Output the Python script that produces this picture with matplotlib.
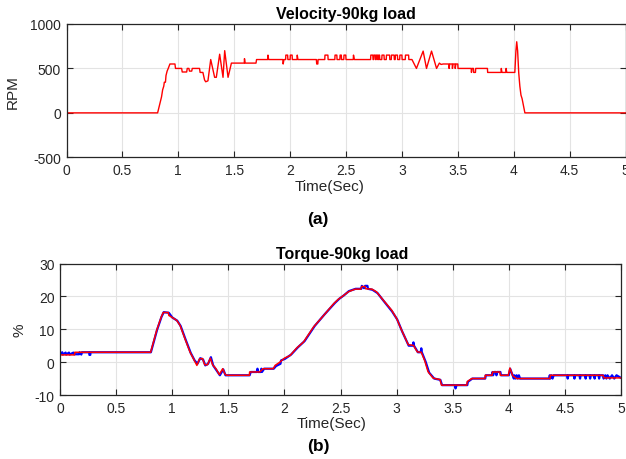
import matplotlib
matplotlib.use("Agg")
import matplotlib.pyplot as plt

plt.rcParams['font.family'] = ['Liberation Sans', 'DejaVu Sans']
plt.rcParams['axes.unicode_minus'] = False

# ---------------- data ----------------
vel_t = [0, 0.815, 0.835, 0.85, 0.86, 0.87, 0.875, 0.885, 0.89, 0.90, 0.91, 0.925, 0.97, 0.975,
         1.03, 1.035, 1.075, 1.08, 1.095, 1.10, 1.12, 1.125, 1.19, 1.195, 1.22, 1.235, 1.245, 1.265,
         1.29, 1.325, 1.34, 1.37, 1.40, 1.415, 1.445, 1.475, 1.59, 1.592, 1.598, 1.695, 1.70,
         1.80, 1.802, 1.808, 1.935, 1.938, 1.945, 1.96, 1.962, 1.978, 1.98,
         2.0, 2.002, 2.018, 2.02, 2.062, 2.064, 2.07, 2.235, 2.238, 2.248, 2.25,
         2.31, 2.312, 2.338, 2.34, 2.40, 2.402, 2.418, 2.42, 2.445, 2.447, 2.458, 2.46,
         2.48, 2.482, 2.498, 2.50, 2.565, 2.567, 2.575,
         2.72, 2.722, 2.74, 2.742, 2.748, 2.75, 2.762, 2.764, 2.77, 2.772, 2.782, 2.784,
         2.79, 2.792, 2.80, 2.802, 2.82, 2.822, 2.84, 2.842, 2.86, 2.862, 2.89, 2.892,
         2.905, 2.907, 2.93, 2.932, 2.94, 2.942, 2.96, 2.962, 2.98, 2.982, 3.0, 3.002,
         3.03, 3.032, 3.06, 3.062,
         3.09, 3.13, 3.19, 3.22, 3.265, 3.31, 3.335, 3.35, 3.37, 3.42, 3.422, 3.428, 3.45, 3.452,
         3.458, 3.475, 3.477, 3.483, 3.50, 3.502, 3.62, 3.622, 3.628, 3.64, 3.642, 3.658, 3.66,
         3.765, 3.767, 3.887, 3.889, 3.895, 3.93, 3.932, 3.938, 4.01, 4.02, 4.027, 4.035, 4.045,
         4.055, 4.065, 4.075, 4.09, 4.10, 5.0]
vel_v = [0, 0, 100, 180, 260, 300, 345, 345, 420, 470, 500, 550, 550, 500,
         500, 460, 460, 500, 500, 470, 470, 500, 500, 455, 455, 370, 350, 360,
         600, 400, 400, 660, 400, 700, 400, 560, 560, 610, 560, 560, 600,
         600, 650, 600, 600, 550, 600, 600, 650, 650, 600,
         600, 650, 650, 600, 600, 650, 600, 600, 550, 550, 600,
         600, 650, 650, 600, 600, 650, 650, 600, 600, 650, 650, 600,
         600, 650, 650, 600, 600, 650, 600,
         600, 650, 650, 600, 600, 650, 650, 600, 600, 650, 650, 600,
         600, 650, 650, 600, 600, 650, 650, 600, 600, 650, 650, 600,
         600, 650, 650, 600, 600, 650, 650, 600, 600, 650, 650, 600,
         600, 650, 650, 600,
         600, 500, 695, 500, 695, 500, 560, 545, 550, 550, 500, 550, 550, 500,
         550, 550, 500, 550, 550, 500, 500, 455, 500, 500, 455, 455, 500,
         500, 455, 455, 500, 455, 455, 500, 455, 455, 700, 800, 700, 450,
         300, 200, 160, 60, 0, 0]

trq_red_t = [0, 0.13, 0.132, 0.808, 0.862, 0.90, 0.92, 0.965, 0.97, 0.995, 1.04, 1.07, 1.114,
             1.159, 1.19, 1.22, 1.244, 1.27, 1.29, 1.315, 1.34, 1.36, 1.39, 1.42, 1.45, 1.47,
             1.485, 1.688, 1.69, 1.78, 1.81, 1.90, 1.917, 1.96, 2.0, 2.05, 2.11, 2.17, 2.26,
             2.35, 2.44, 2.48, 2.525, 2.57, 2.63, 2.68, 2.69, 2.72, 2.725, 2.78, 2.82, 2.88,
             2.956, 3.0, 3.045, 3.104, 3.15, 3.185, 3.22, 3.25, 3.28, 3.327, 3.387, 3.40,
             3.625, 3.63, 3.67, 3.788, 3.79, 3.85, 3.855, 3.92, 3.925, 3.995, 4.01, 4.034,
             4.07, 4.367, 4.37, 4.84, 4.85, 5.0]
trq_red_v = [2.2, 2.2, 3.0, 3.0, 9.7, 13.5, 15.1, 15.1, 14.2, 13.7, 12.7, 11.2, 7.1,
             3.05, 1.0, -1.0, 1.0, 1.1, -0.8, -0.8, 1.2, -0.8, -2.0, -3.8, -2.0, -3.6,
             -4.0, -4.0, -3.0, -3.0, -2.0, -2.0, -1.0, 0.0, 1.2, 2.0, 4.3, 6.1, 10.7,
             14.2, 17.8, 19.1, 20.2, 21.4, 22.2, 22.2, 23.0, 23.0, 22.3, 22.2, 21.4, 18.9,
             15.8, 13.3, 9.7, 5.3, 5.1, 3.1, 3.0, 0.5, -2.9, -4.9, -5.3, -7.0,
             -7.0, -5.9, -5.0, -5.0, -4.0, -4.0, -3.0, -3.0, -4.0, -4.0, -1.8, -4.1,
             -5.0, -5.0, -4.0, -4.0, -4.8, -4.8]

trq_blue_t = [0, 0.02, 0.025, 0.05, 0.055, 0.08, 0.085, 0.12, 0.125, 0.17, 0.175, 0.19, 0.195,
              0.26, 0.262, 0.27, 0.272, 0.81, 0.865, 0.905, 0.925, 0.97, 1.0, 1.045, 1.075,
              1.12, 1.165, 1.20, 1.225, 1.25, 1.275, 1.295, 1.32, 1.345, 1.365, 1.395, 1.425,
              1.455, 1.475, 1.49, 1.69, 1.70, 1.755, 1.76, 1.765, 1.79, 1.795, 1.80, 1.82,
              1.905, 1.925, 1.965, 1.97, 2.005, 2.06, 2.12, 2.18, 2.27, 2.36, 2.45, 2.49,
              2.53, 2.575, 2.635, 2.685, 2.69, 2.71, 2.72, 2.74, 2.745, 2.785, 2.83, 2.885,
              2.96, 3.005, 3.05, 3.108, 3.145, 3.15, 3.155, 3.19, 3.215, 3.22, 3.225, 3.26,
              3.29, 3.335, 3.39, 3.405, 3.52, 3.525, 3.535, 3.63, 3.635, 3.675, 3.79, 3.795,
              3.85, 3.855, 3.86, 3.87, 3.885, 3.89, 3.895, 3.925, 3.93, 4.0, 4.012, 4.036,
              4.045, 4.05, 4.06, 4.07, 4.08, 4.09, 4.10, 4.36, 4.365, 4.37, 4.38, 4.39, 4.40,
              4.52, 4.525, 4.53, 4.58, 4.585, 4.59, 4.63, 4.635, 4.64, 4.68, 4.685, 4.69,
              4.72, 4.725, 4.73, 4.76, 4.765, 4.77, 4.80, 4.805, 4.81, 4.84, 4.845, 4.86,
              4.87, 4.88, 4.90, 4.92, 4.94, 4.96, 5.0]
trq_blue_v = [2.4, 3.0, 2.3, 2.9, 2.3, 2.9, 2.3, 2.9, 2.4, 2.4, 3.0, 2.3, 3.0,
              3.0, 2.2, 2.2, 3.0, 3.0, 9.8, 13.8, 15.2, 15.0, 13.6, 12.6, 11.0,
              6.8, 2.8, 0.5, -0.5, 1.2, 0.8, -1.0, -0.5, 1.5, -1.0, -2.5, -4.0,
              -2.2, -4.0, -4.0, -4.0, -3.0, -3.0, -2.0, -3.0, -3.0, -2.0, -3.0, -2.0,
              -2.0, -1.2, -0.5, 0.5, 1.0, 2.3, 4.5, 6.4, 11.0, 14.6, 18.0, 19.3,
              20.3, 21.6, 22.3, 22.3, 23.2, 22.5, 23.2, 23.2, 22.3, 22.0, 21.0, 18.6,
              15.4, 13.0, 9.3, 5.0, 5.0, 6.0, 5.0, 3.0, 3.0, 4.2, 3.0, 0.0,
              -3.2, -5.0, -5.4, -7.0, -7.0, -8.0, -7.0, -7.0, -6.0, -5.0, -5.0, -4.0,
              -4.0, -3.0, -4.0, -3.0, -3.0, -4.0, -3.0, -3.0, -4.0, -4.0, -2.0, -4.2,
              -5.0, -4.0, -5.0, -4.0, -5.0, -4.0, -5.0, -5.0, -4.0, -5.0, -4.0, -5.0, -4.0,
              -4.0, -5.0, -4.0, -4.0, -5.0, -4.0, -4.0, -5.0, -4.0, -4.0, -5.0, -4.0,
              -4.0, -5.0, -4.0, -4.0, -5.0, -4.0, -4.0, -5.0, -4.0, -4.0, -5.0, -4.0,
              -5.0, -4.0, -5.0, -4.0, -5.0, -4.0, -4.8]

x_ticks = [0, 0.5, 1, 1.5, 2, 2.5, 3, 3.5, 4, 4.5, 5]
x_ticklabels = ['0', '0.5', '1', '1.5', '2', '2.5', '3', '3.5', '4', '4.5', '5']
vel_yticks = [-500, 0, 500, 1000]
trq_yticks = [-10, 0, 10, 20, 30]

# ---------------- figure ----------------
W, H = 626, 460
fig = plt.figure(figsize=(W / 100, H / 100), dpi=100)
fig.patch.set_facecolor('white')

def px_axes(l, t, r, b):
    return fig.add_axes([l / W, 1 - b / H, (r - l) / W, (b - t) / H])

ax1 = px_axes(66.5, 25, 625.5, 158.3)
ax2 = px_axes(60, 264.5, 621, 396)

dark = '#262626'
for ax in (ax1, ax2):
    ax.set_xlim(0, 5)
    ax.set_xticks(x_ticks)
    ax.set_xticklabels(x_ticklabels)
    ax.grid(True, color='#e3e3e3', linewidth=0.8)
    ax.set_axisbelow(True)
    ax.tick_params(direction='in', top=True, right=True, length=4, width=0.8,
                   colors=dark, labelsize=10, pad=4)
    for s in ax.spines.values():
        s.set_color(dark)
        s.set_linewidth(0.9)

ax1.set_ylim(-500, 1000)
ax1.set_yticks(vel_yticks)
ax1.plot(vel_t, vel_v, color='#ff0000', linewidth=1.0)

ax2.set_ylim(-10, 30)
ax2.set_yticks(trq_yticks)
ax2.plot(trq_blue_t, trq_blue_v, color='#0000ff', linewidth=1.6)
ax2.plot(trq_red_t, trq_red_v, color='#ff0000', linewidth=1.1)

def ftext(x, y, s, **kw):
    fig.text(x / W, 1 - y / H, s, ha='center', va='center', color=kw.pop('color', dark), **kw)

ftext(346, 14, 'Velocity-90kg load', fontsize=11.5, fontweight='bold', color='black')
ftext(342, 254, 'Torque-90kg load', fontsize=11.5, fontweight='bold', color='black')
ftext(330, 187, 'Time(Sec)', fontsize=11)
ftext(332, 424.5, 'Time(Sec)', fontsize=11)
ftext(13, 92, 'RPM', fontsize=11, rotation=90)
ftext(19, 330, '%', fontsize=11, rotation=90)
ftext(318, 220, '(a)', fontsize=12.5, fontweight='bold', color='black')
ftext(318, 447, '(b)', fontsize=12.5, fontweight='bold', color='black')

fig.savefig('out.png', dpi=100, facecolor='white')
